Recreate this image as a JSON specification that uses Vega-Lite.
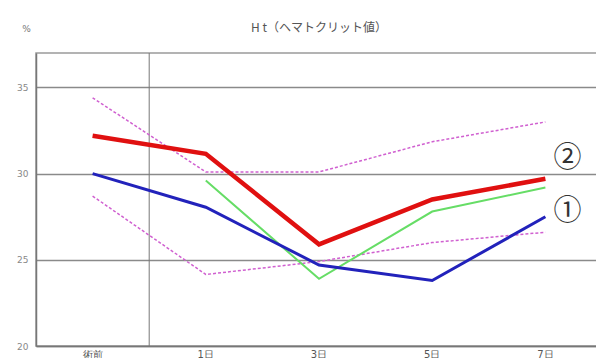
{
  "$schema": "https://vega.github.io/schema/vega-lite/v6.json",
  "autosize": "none",
  "padding": {"left": 36, "top": 53, "right": 0, "bottom": 12},
  "width": 566,
  "height": 293,
  "background": "white",
  "config": {
    "view": {"stroke": "#9a9a9a", "strokeWidth": 1.5},
    "font": "DejaVu Sans"
  },
  "title": {
    "text": "H t（ヘマトクリット値）",
    "font": "Noto Sans CJK JP",
    "fontSize": 12,
    "fontWeight": "normal",
    "color": "#555555",
    "offset": 14,
    "dy": 25
  },
  "data": {
    "values": [
      {"t": "術前", "s": "red", "v": 32.2},
      {"t": "1日", "s": "red", "v": 31.15},
      {"t": "3日", "s": "red", "v": 25.9},
      {"t": "5日", "s": "red", "v": 28.5},
      {"t": "7日", "s": "red", "v": 29.7},
      {"t": "術前", "s": "blue", "v": 30.0},
      {"t": "1日", "s": "blue", "v": 28.05},
      {"t": "3日", "s": "blue", "v": 24.7},
      {"t": "5日", "s": "blue", "v": 23.8},
      {"t": "7日", "s": "blue", "v": 27.5},
      {"t": "1日", "s": "green", "v": 29.6},
      {"t": "3日", "s": "green", "v": 23.9},
      {"t": "5日", "s": "green", "v": 27.8},
      {"t": "7日", "s": "green", "v": 29.2},
      {"t": "術前", "s": "upper", "v": 34.4},
      {"t": "1日", "s": "upper", "v": 30.1},
      {"t": "3日", "s": "upper", "v": 30.1},
      {"t": "5日", "s": "upper", "v": 31.85},
      {"t": "7日", "s": "upper", "v": 33.0},
      {"t": "術前", "s": "lower", "v": 28.7},
      {"t": "1日", "s": "lower", "v": 24.15},
      {"t": "3日", "s": "lower", "v": 24.9},
      {"t": "5日", "s": "lower", "v": 26.0},
      {"t": "7日", "s": "lower", "v": 26.6}
    ]
  },
  "encoding": {
    "x": {
      "field": "t", "type": "nominal", "sort": null,
      "scale": {"type": "band", "paddingInner": 0, "paddingOuter": 0, "domain": ["術前", "1日", "3日", "5日", "7日"]},
      "axis": {"title": null, "labelAngle": 0, "labelColor": "#555", "labelFontSize": 10, "labelPadding": 3, "ticks": false, "domainColor": "#777", "domainWidth": 1.5, "grid": false}
    },
    "y": {
      "field": "v", "type": "quantitative",
      "scale": {"domain": [20, 37], "nice": false, "zero": false},
      "axis": {"values": [20, 25, 30, 35], "title": "%", "titleAngle": 0, "titleX": -10, "titleY": -20, "titleFontSize": 9, "titleFontWeight": "normal", "titleColor": "#777", "labelColor": "#888", "labelFontSize": 9, "labelPadding": 8, "ticks": false, "domainColor": "#777", "domainWidth": 1.5, "gridColor": "#8a8a8a", "gridWidth": 1.5, "gridOpacity": 1}
    }
  },
  "layer": [
    {
      "data": {"values": [{"t": "1日"}]},
      "mark": {"type": "rule", "color": "#777", "strokeWidth": 1},
      "encoding": {"x": {"field": "t", "type": "nominal", "bandPosition": 0}, "y": null}
    },
    {
      "transform": [{"filter": "datum.s === 'upper'"}],
      "mark": {"type": "line", "color": "#d060d0", "strokeWidth": 1.5, "strokeDash": [3, 2]}
    },
    {
      "transform": [{"filter": "datum.s === 'lower'"}],
      "mark": {"type": "line", "color": "#d060d0", "strokeWidth": 1.5, "strokeDash": [3, 2]}
    },
    {
      "transform": [{"filter": "datum.s === 'green'"}],
      "mark": {"type": "line", "color": "#66dd66", "strokeWidth": 2}
    },
    {
      "transform": [{"filter": "datum.s === 'blue'"}],
      "mark": {"type": "line", "color": "#2222bb", "strokeWidth": 3}
    },
    {
      "transform": [{"filter": "datum.s === 'red'"}],
      "mark": {"type": "line", "color": "#e01010", "strokeWidth": 4.5}
    },
    {
      "data": {"values": [{"t": "7日", "v": 30.86, "label": "②"}, {"t": "7日", "v": 27.76, "label": "①"}]},
      "mark": {"type": "text", "font": "Noto Sans CJK JP", "fontSize": 28, "color": "#333", "dx": 22, "baseline": "middle"},
      "encoding": {"text": {"field": "label"}}
    }
  ]
}
